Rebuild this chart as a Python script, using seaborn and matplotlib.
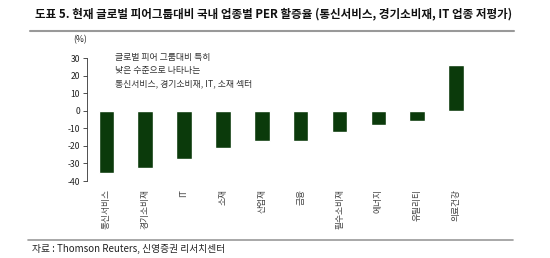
import matplotlib
matplotlib.use("Agg")
import matplotlib.pyplot as plt
import seaborn as sns
import pandas as pd
from matplotlib.lines import Line2D

sns.set_style("white")
plt.rcParams['font.family'] = ['Noto Sans CJK KR', 'DejaVu Sans']

categories = ["통신서비스", "경기소비재", "IT", "소재", "산업재", "금융", "필수소비재", "에너지", "유틸리티", "의료건강"]
values = [-35.2, -32.6, -27.3, -21.4, -17.4, -17.0, -12.1, -8.0, -5.7, 25.9]
yticks = [30, 20, 10, 0, -10, -20, -30, -40]

df = pd.DataFrame({"cat": categories, "val": values})

fig = plt.figure(figsize=(5.5, 2.58), dpi=100)
ax = fig.add_axes([0.158, 0.2984, 0.7065, 0.4766])
sns.barplot(data=df, x="cat", y="val", color="#0b3a0b", saturation=1, width=0.4, ax=ax)
ax.set_xlim(-0.5, 9.5)
ax.set_ylim(-40, 30)
ax.set_yticks(yticks)
ax.set_yticklabels([str(t) for t in yticks], fontsize=6.2, color="#222222")
ax.set_xticks(range(len(categories)))
ax.set_xticklabels(categories, rotation=90, fontsize=6.3, color="#444444", va="top")
ax.set_xlabel("")
ax.set_ylabel("")
for s in ["top", "right", "bottom"]:
    ax.spines[s].set_visible(False)
ax.spines["left"].set_color("#333333")
ax.spines["left"].set_linewidth(0.6)
ax.tick_params(axis="y", direction="out", length=3, width=0.6, color="#333333", left=True, pad=2)
ax.tick_params(axis="x", length=0, pad=6)

fig.text(0.134, 0.845, "(%)", fontsize=6.2, color="#222222", ha="left", va="center")
ann = ["글로벌 피어 그룹대비 특히", "낮은 수준으로 나타나는", "통신서비스, 경기소비재, IT, 소재 섹터"]
for i, line in enumerate(ann):
    fig.text(0.209, 0.776 - i * 0.051, line, fontsize=6.4, color="#333333", ha="left", va="center")

fig.text(0.064, 0.945, "도표 5. 현재 글로벌 피어그룹대비 국내 업종별 PER 할증율 (통신서비스, 경기소비재, IT 업종 저평가)",
         fontsize=8.3, fontweight="bold", color="#111111", ha="left", va="center")
fig.add_artist(Line2D([0.055, 0.935], [0.88, 0.88], transform=fig.transFigure, color="#999999", lw=1.5))
fig.add_artist(Line2D([0.05, 0.932], [0.07, 0.07], transform=fig.transFigure, color="#999999", lw=1.2))
fig.text(0.058, 0.035, "자료 : Thomson Reuters, 신영증권 리서치센터", fontsize=7.0, color="#222222", ha="left", va="center")

fig.savefig("out.png", dpi=100)
